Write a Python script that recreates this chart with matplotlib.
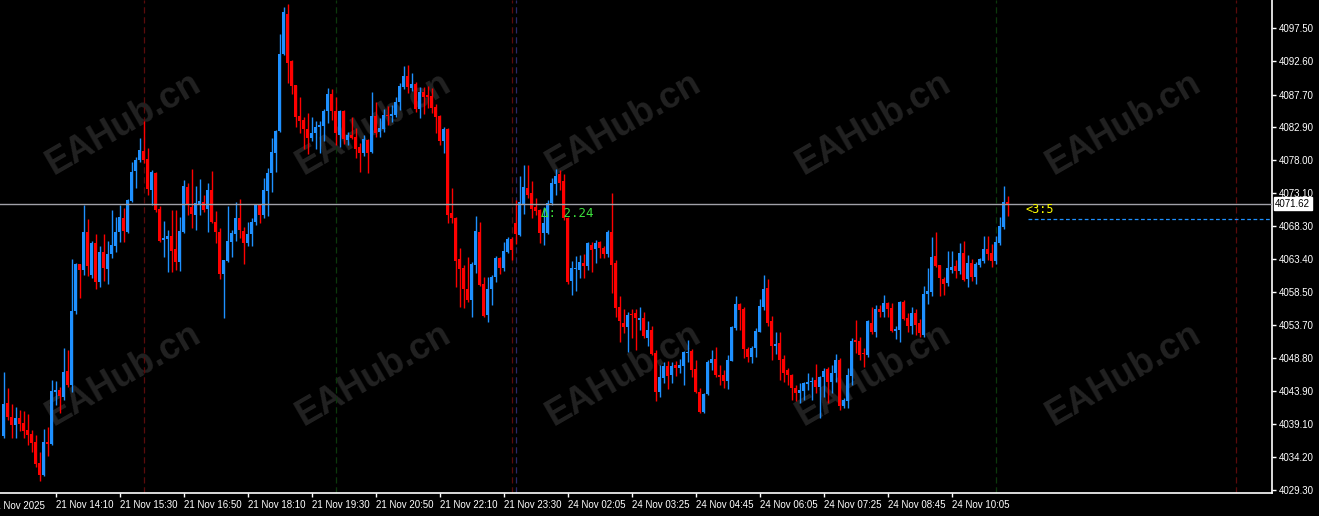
import numpy as np
import matplotlib
matplotlib.use("Agg")
import matplotlib.pyplot as plt

# M5 candles (bar 0 is the leftmost visible bar)
opens = [4037.3, 4042.2, 4040.1, 4038.9, 4039.9, 4039.2, 4038.2, 4037.6, 4036.4, 4033.3,
         4031.5, 4036.4, 4036.1, 4043.8, 4044.1, 4043.0, 4046.9, 4044.8, 4055.7, 4062.7,
         4061.8, 4067.4, 4061.1, 4065.8, 4060.0, 4064.5, 4061.9, 4064.2, 4065.3, 4067.4,
         4069.5, 4067.4, 4072.0, 4076.4, 4078.0, 4079.4, 4078.2, 4073.6, 4076.1, 4070.8,
         4066.2, 4066.4, 4066.8, 4064.9, 4063.0, 4067.4, 4074.1, 4071.1, 4069.9, 4071.5,
         4071.8, 4070.8, 4073.6, 4068.9, 4067.4, 4061.2, 4063.1, 4065.9, 4067.1, 4069.5,
         4067.6, 4065.8, 4067.1, 4068.9, 4071.4, 4069.9, 4073.5, 4076.1, 4079.1, 4082.3,
         4093.7, 4099.6, 4092.7, 4089.1, 4084.5, 4084.0, 4082.6, 4081.3, 4082.0, 4082.9,
         4083.1, 4085.3, 4087.8, 4085.3, 4081.7, 4085.3, 4081.0, 4081.7, 4081.4, 4080.0,
         4079.1, 4081.0, 4079.2, 4084.5, 4082.2, 4082.6, 4084.7, 4084.5, 4084.7, 4086.6,
         4088.8, 4090.5, 4088.7, 4089.3, 4085.6, 4088.1, 4087.7, 4087.5, 4085.9, 4084.5,
         4080.9, 4082.6, 4070.2, 4069.5, 4063.4, 4062.1, 4059.0, 4057.4, 4062.5, 4067.4,
         4059.7, 4055.2, 4059.0, 4060.8, 4063.6, 4062.1, 4064.5, 4066.4, 4068.7, 4066.9,
         4071.4, 4073.9, 4073.2, 4071.1, 4070.7, 4067.3, 4067.3, 4071.7, 4074.5, 4076.0,
         4074.9, 4069.5, 4060.2, 4062.0, 4061.8, 4062.8, 4062.4, 4065.5, 4064.9, 4065.9,
         4065.0, 4064.2, 4067.4, 4062.8, 4056.3, 4054.0, 4053.4, 4055.3, 4055.4, 4054.4,
         4054.7, 4051.8, 4052.9, 4049.5, 4043.8, 4045.9, 4047.6, 4046.3, 4047.8, 4047.3,
         4047.6, 4049.6, 4049.8, 4047.2, 4043.8, 4040.8, 4043.5, 4048.0, 4048.6, 4046.3,
         4046.3, 4045.4, 4048.4, 4053.2, 4056.8, 4056.0, 4050.1, 4048.9, 4050.3, 4052.6,
         4056.3, 4059.1, 4054.3, 4050.6, 4051.0, 4048.7, 4047.0, 4046.3, 4044.4, 4043.6,
         4043.9, 4044.9, 4045.3, 4045.6, 4044.5, 4046.0, 4047.2, 4045.3, 4046.6, 4048.5,
         4041.7, 4042.5, 4046.1, 4051.5, 4051.3, 4049.5, 4049.2, 4054.0, 4052.6, 4056.1,
         4055.6, 4056.9, 4056.2, 4052.8, 4053.0, 4057.1, 4054.7, 4053.5, 4055.5, 4054.0,
         4052.2, 4058.2, 4058.6, 4063.9, 4062.5, 4060.5, 4059.9, 4061.8, 4062.4, 4061.7,
         4064.3, 4060.5, 4062.8, 4060.8, 4062.5, 4063.1, 4064.9, 4064.3, 4063.1, 4065.8,
         4068.2, 4071.8]
highs = [4046.7, 4044.4, 4042.0, 4041.6, 4041.1, 4041.0, 4040.5, 4038.2, 4037.4, 4034.9,
         4038.3, 4038.6, 4045.6, 4045.4, 4044.5, 4050.3, 4050.0, 4063.4, 4062.8, 4062.7,
         4071.4, 4069.3, 4066.1, 4067.1, 4065.3, 4067.1, 4066.1, 4070.7, 4069.6, 4071.4,
         4070.9, 4072.3, 4077.8, 4078.5, 4081.3, 4083.8, 4079.8, 4076.6, 4076.3, 4071.3,
         4069.0, 4067.7, 4070.7, 4070.7, 4069.6, 4075.1, 4074.6, 4076.7, 4074.2, 4075.2,
         4072.9, 4074.6, 4076.4, 4070.5, 4068.0, 4063.3, 4071.3, 4067.7, 4071.8, 4072.3,
         4068.2, 4068.9, 4069.5, 4071.5, 4071.5, 4075.4, 4076.9, 4081.3, 4082.5, 4096.7,
         4100.6, 4101.1, 4092.8, 4089.1, 4087.3, 4084.4, 4085.0, 4084.4, 4083.8, 4083.8,
         4085.6, 4088.7, 4088.5, 4087.3, 4085.4, 4085.5, 4082.2, 4084.4, 4082.7, 4080.6,
         4081.7, 4081.1, 4088.1, 4086.6, 4084.3, 4085.6, 4086.0, 4086.2, 4087.3, 4089.4,
         4091.9, 4092.1, 4090.9, 4089.6, 4088.8, 4088.8, 4089.0, 4088.7, 4086.3, 4084.7,
         4082.9, 4082.7, 4073.9, 4069.6, 4065.0, 4062.5, 4063.7, 4063.0, 4069.8, 4068.9,
         4060.8, 4060.8, 4061.1, 4063.9, 4063.7, 4065.9, 4066.7, 4066.7, 4072.1, 4075.7,
         4077.3, 4077.3, 4074.9, 4072.4, 4070.8, 4071.1, 4072.1, 4075.4, 4076.7, 4076.6,
         4076.0, 4069.6, 4063.1, 4063.9, 4064.0, 4064.2, 4065.9, 4065.9, 4066.2, 4066.1,
         4065.3, 4067.7, 4073.2, 4063.3, 4058.0, 4056.0, 4055.6, 4056.0, 4056.1, 4056.3,
         4055.6, 4054.3, 4053.6, 4050.0, 4047.8, 4048.2, 4048.4, 4048.2, 4048.4, 4048.7,
         4049.8, 4051.5, 4050.1, 4048.5, 4044.4, 4043.6, 4048.5, 4050.0, 4050.4, 4047.8,
         4047.0, 4049.2, 4053.5, 4058.0, 4056.9, 4056.3, 4050.4, 4050.6, 4053.2, 4057.5,
         4061.1, 4060.5, 4055.0, 4052.6, 4052.6, 4049.2, 4047.3, 4046.5, 4044.8, 4045.1,
         4045.3, 4046.6, 4046.0, 4047.9, 4046.2, 4047.3, 4047.4, 4047.7, 4049.4, 4048.8,
         4042.9, 4047.3, 4051.7, 4054.4, 4051.9, 4050.3, 4054.4, 4056.3, 4056.7, 4056.7,
         4058.1, 4057.0, 4056.9, 4053.6, 4057.2, 4057.4, 4055.5, 4056.3, 4056.0, 4054.6,
         4059.4, 4062.1, 4066.7, 4067.4, 4062.6, 4060.8, 4064.6, 4064.6, 4063.3, 4065.8,
         4066.1, 4064.0, 4063.4, 4063.0, 4063.6, 4066.8, 4066.8, 4065.6, 4066.8, 4069.6,
         4074.2, 4072.7]
lows = [4037.0, 4039.6, 4037.0, 4037.0, 4038.0, 4037.0, 4036.0, 4034.9, 4032.7, 4030.6,
        4031.4, 4034.3, 4036.0, 4041.9, 4040.7, 4042.6, 4044.5, 4043.8, 4055.3, 4057.7,
        4061.1, 4060.9, 4060.6, 4059.0, 4059.3, 4060.2, 4059.7, 4063.6, 4064.5, 4065.9,
        4065.9, 4067.2, 4071.8, 4073.9, 4077.8, 4077.6, 4072.9, 4071.4, 4070.4, 4065.9,
        4063.7, 4061.5, 4061.5, 4061.8, 4061.6, 4067.2, 4069.9, 4068.0, 4067.7, 4069.9,
        4070.4, 4067.4, 4068.7, 4065.8, 4060.5, 4054.7, 4063.0, 4063.7, 4066.1, 4066.5,
        4062.7, 4065.3, 4065.3, 4068.4, 4068.8, 4069.5, 4069.8, 4073.3, 4076.3, 4082.2,
        4093.6, 4089.4, 4087.8, 4082.9, 4082.0, 4079.7, 4078.9, 4080.9, 4079.7, 4079.1,
        4080.9, 4083.5, 4084.0, 4080.3, 4080.0, 4080.4, 4080.2, 4081.1, 4078.3, 4076.3,
        4078.6, 4076.1, 4079.1, 4081.4, 4081.4, 4082.2, 4083.2, 4083.6, 4084.4, 4085.5,
        4088.5, 4087.9, 4088.2, 4085.1, 4084.3, 4084.8, 4085.7, 4085.0, 4082.0, 4080.2,
        4079.1, 4068.7, 4068.7, 4059.3, 4056.3, 4056.2, 4057.1, 4054.9, 4061.4, 4059.4,
        4054.9, 4054.1, 4056.6, 4060.0, 4061.2, 4061.6, 4064.3, 4063.3, 4065.6, 4066.8,
        4070.1, 4072.4, 4069.5, 4069.9, 4065.8, 4065.5, 4067.1, 4071.4, 4072.9, 4073.6,
        4069.2, 4059.7, 4058.1, 4058.7, 4060.6, 4060.6, 4061.8, 4061.5, 4062.8, 4063.6,
        4063.6, 4063.7, 4058.4, 4054.9, 4051.2, 4052.5, 4049.7, 4051.7, 4050.0, 4052.9,
        4051.8, 4050.6, 4049.2, 4042.5, 4043.0, 4045.1, 4044.2, 4045.1, 4046.1, 4046.6,
        4044.8, 4048.2, 4046.0, 4043.6, 4040.7, 4040.7, 4043.3, 4047.0, 4046.0, 4044.8,
        4044.4, 4044.2, 4048.3, 4052.9, 4052.9, 4048.8, 4048.2, 4048.0, 4048.9, 4052.6,
        4055.9, 4053.6, 4048.5, 4049.4, 4045.6, 4045.3, 4044.8, 4042.6, 4042.5, 4042.2,
        4042.6, 4044.1, 4042.6, 4043.6, 4039.9, 4043.0, 4042.2, 4043.6, 4045.3, 4041.1,
        4041.4, 4041.4, 4044.8, 4049.5, 4048.5, 4047.5, 4048.9, 4052.4, 4051.9, 4054.9,
        4054.9, 4054.9, 4052.6, 4051.6, 4051.2, 4054.4, 4052.6, 4052.4, 4052.2, 4051.9,
        4051.9, 4056.8, 4058.0, 4062.2, 4058.0, 4058.1, 4059.4, 4061.4, 4060.6, 4061.2,
        4060.2, 4059.3, 4060.2, 4059.7, 4062.2, 4062.8, 4063.3, 4062.2, 4062.7, 4065.5,
        4067.8, 4069.8]
closes = [4042.0, 4040.1, 4038.9, 4039.9, 4039.1, 4038.0, 4037.4, 4036.3, 4033.2, 4031.5,
          4036.4, 4036.1, 4043.9, 4044.1, 4043.2, 4046.7, 4044.8, 4055.7, 4062.7, 4061.8,
          4067.4, 4062.4, 4065.8, 4060.0, 4064.5, 4062.1, 4064.2, 4065.5, 4067.4, 4069.6,
          4067.6, 4072.1, 4076.3, 4078.0, 4079.5, 4078.0, 4073.8, 4076.3, 4070.7, 4066.1,
          4066.5, 4066.8, 4064.6, 4063.0, 4067.6, 4074.2, 4071.4, 4070.1, 4071.7, 4072.0,
          4070.7, 4073.6, 4068.9, 4067.4, 4061.2, 4063.3, 4066.1, 4067.3, 4069.5, 4067.7,
          4065.8, 4067.1, 4068.9, 4071.4, 4069.9, 4073.6, 4076.1, 4079.2, 4082.3, 4093.7,
          4099.9, 4092.4, 4089.0, 4084.4, 4083.8, 4082.6, 4081.3, 4082.0, 4082.9, 4083.2,
          4085.3, 4087.8, 4085.3, 4082.0, 4085.3, 4081.1, 4081.7, 4081.3, 4079.7, 4079.1,
          4081.1, 4079.1, 4084.5, 4082.0, 4082.7, 4084.7, 4084.5, 4084.8, 4086.6, 4089.0,
          4090.5, 4088.8, 4089.3, 4085.6, 4088.1, 4087.3, 4087.3, 4085.7, 4084.4, 4080.9,
          4082.6, 4069.9, 4069.5, 4063.1, 4061.9, 4059.0, 4057.4, 4062.7, 4067.6, 4059.6,
          4055.0, 4059.0, 4060.8, 4063.6, 4062.1, 4064.6, 4066.4, 4064.8, 4067.1, 4071.8,
          4074.1, 4072.9, 4070.8, 4070.5, 4067.3, 4068.7, 4071.7, 4074.6, 4075.7, 4074.6,
          4069.5, 4060.0, 4062.1, 4062.1, 4063.0, 4062.4, 4065.8, 4064.8, 4065.8, 4065.0,
          4064.2, 4067.4, 4062.5, 4056.2, 4054.3, 4053.4, 4055.1, 4055.1, 4054.7, 4054.7,
          4052.0, 4052.9, 4049.4, 4043.8, 4046.0, 4047.6, 4046.1, 4047.6, 4047.3, 4047.8,
          4049.7, 4049.7, 4047.1, 4043.8, 4040.8, 4043.5, 4048.2, 4048.6, 4046.3, 4046.0,
          4045.4, 4048.5, 4053.4, 4056.8, 4055.9, 4050.1, 4048.9, 4050.3, 4052.8, 4056.5,
          4059.0, 4053.9, 4050.6, 4050.9, 4048.5, 4046.6, 4046.3, 4044.4, 4043.6, 4044.1,
          4045.1, 4045.3, 4045.4, 4044.5, 4046.0, 4046.9, 4045.3, 4046.6, 4048.5, 4041.7,
          4042.6, 4046.3, 4051.3, 4051.2, 4049.2, 4049.4, 4054.3, 4052.6, 4056.1, 4055.6,
          4056.9, 4056.0, 4052.8, 4053.1, 4057.1, 4054.6, 4053.5, 4055.5, 4053.7, 4052.5,
          4058.3, 4058.7, 4063.7, 4062.4, 4060.6, 4059.7, 4062.1, 4062.2, 4061.7, 4064.3,
          4060.3, 4062.8, 4060.8, 4062.7, 4063.4, 4064.9, 4064.2, 4063.1, 4065.9, 4068.3,
          4071.8, 4071.62]

time_tick_bars = [13, 29, 45, 61, 77, 93, 109, 125, 141, 157, 173, 189, 205, 221, 237]
time_tick_labels = ["21 Nov 14:10", "21 Nov 15:30", "21 Nov 16:50", "21 Nov 18:10",
                    "21 Nov 19:30", "21 Nov 20:50", "21 Nov 22:10", "21 Nov 23:30",
                    "24 Nov 02:05", "24 Nov 03:25", "24 Nov 04:45", "24 Nov 06:05",
                    "24 Nov 07:25", "24 Nov 08:45", "24 Nov 10:05"]
first_label = "21 Nov 2025"
price_ticks = [4097.50, 4092.60, 4087.70, 4082.90, 4078.00, 4073.10, 4068.30, 4063.40,
               4058.50, 4053.70, 4048.80, 4043.90, 4039.10, 4034.20, 4029.30]

bid_price = 4071.62
level_price = 4069.33
delta_text = "\u0394: 2.24"
timer_text = "<3:5"
session_bars = [35, 83, 127, 128, 248, 308]
session_colors = ["#5a0b0b", "#0c380c", "#5a0b0b", "#2a2a6c", "#0c380c", "#5a0b0b"]

BULL = "#1e90ff"
BEAR = "#ff0000"

o = np.array(opens)
h = np.array(highs)
l = np.array(lows)
c = np.array(closes)
x = np.arange(len(o))
cols = np.where(c >= o, BULL, BEAR)

fig = plt.figure(figsize=(13.19, 5.16), dpi=100, facecolor="black")
ax = fig.add_axes([0, 23 / 516, 1272 / 1319, 493 / 516])
ax.set_facecolor("black")
ax.set_xlim(-0.875, 317.125)
ax.set_ylim(4028.86, 4101.68)

# watermark
for wy in (124, 375):
    for k in range(5):
        wx = 124 + 250 * k
        ax.text(wx / 1319, 1 - wy / 516, "EAHub.cn", transform=fig.transFigure,
                fontsize=26, fontweight="bold", family="Liberation Sans",
                color="#222222", rotation=30, rotation_mode="anchor",
                ha="center", va="center", zorder=0.5)

for sb, sc in zip(session_bars, session_colors):
    ax.axvline(sb, color=sc, lw=0.9, ls=(0, (5, 3)), zorder=1)

# candles
ax.vlines(x, l, h, colors=cols, lw=1.0, zorder=2)
body = c - o
body = np.where(np.abs(body) < 0.15, np.where(body >= 0, 0.15, -0.15), body)
ax.bar(x, body, bottom=o, width=0.75, color=cols, linewidth=0, zorder=3)

ax.axhline(bid_price, color="#a0a0a8", lw=1.0, zorder=4)
ax.hlines(level_price, 256, 317.125, colors=BULL, lw=0.9, linestyles=(0, (3, 2)), zorder=4)

ax.text(134.4, 4070.2, delta_text, color="#3ce03c", fontsize=9, family="DejaVu Sans Mono",
        ha="left", va="center", zorder=5)
ax.text(255.4, 4070.8, timer_text, color="#ffff00", fontsize=8.5, family="DejaVu Sans Mono",
        ha="left", va="center", zorder=5)

# axes styling
for side in ("left", "top"):
    ax.spines[side].set_visible(False)
for side in ("right", "bottom"):
    ax.spines[side].set_color("white")
    ax.spines[side].set_linewidth(1.2)

ax.yaxis.tick_right()
ax.set_yticks(price_ticks)
ax.set_yticklabels(["%.2f" % p for p in price_ticks])
ax.tick_params(axis="y", colors="white", length=3, width=1, pad=2, labelsize=7)
ax.set_xticks(time_tick_bars)
ax.set_xticklabels(time_tick_labels)
ax.tick_params(axis="x", colors="white", length=3, width=1, pad=2, labelsize=7)
for t in ax.get_xticklabels() + ax.get_yticklabels():
    t.set_family("Liberation Sans")
for t in ax.get_xticklabels():
    t.set_ha("left")

# first date label runs off the left edge, as in the terminal
ax.text(-3.3, -0.016, first_label, transform=ax.get_xaxis_transform(), color="white",
        fontsize=7, family="Liberation Sans", ha="left", va="top", clip_on=False)

ax.text(1.0025, bid_price, "%.2f" % bid_price, transform=ax.get_yaxis_transform(),
        color="black", fontsize=7, family="Liberation Sans", ha="left", va="center",
        bbox=dict(boxstyle="square,pad=0.15", fc="white", ec="white"), clip_on=False)

fig.savefig("out.png", dpi=100, facecolor="black")
